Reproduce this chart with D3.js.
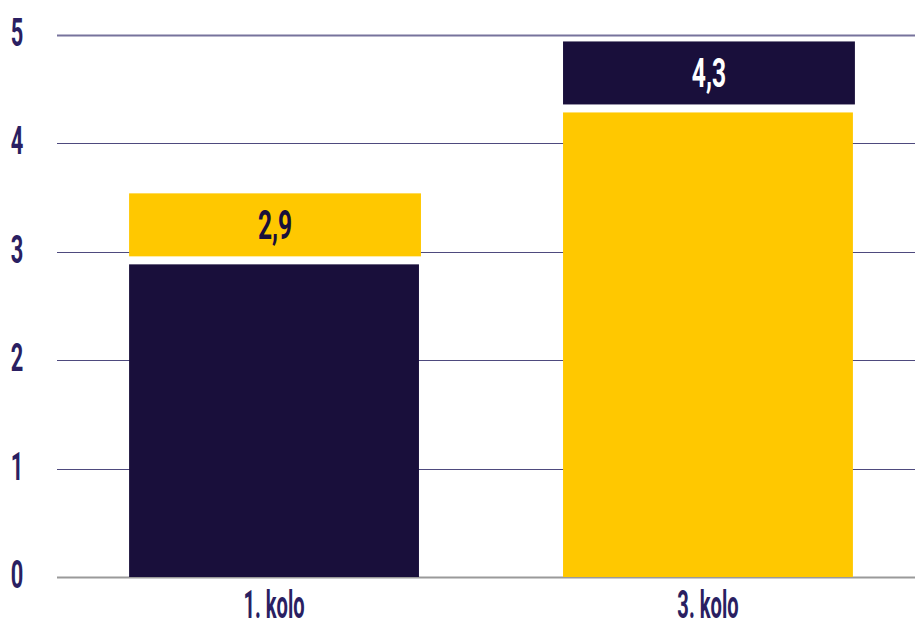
<!DOCTYPE html>
<html><head><meta charset="utf-8">
<script src="https://cdn.jsdelivr.net/npm/d3@7"></script>
<style>body{margin:0;background:#fff}svg{display:block}text{font-family:Roboto,"DejaVu Sans",sans-serif;font-weight:700}</style>
</head><body>
<svg id="c" width="915" height="628"></svg>
<script>
const categories = ["1. kolo", "3. kolo"];
const values = [2.9, 4.3];
const valueLabels = ["2,9", "4,3"];
const barColors = ["#190f3b", "#ffc800"];
const boxColors = ["#ffc800", "#190f3b"];
const boxTextColors = ["#190f3b", "#ffffff"];
const yTicks = [0, 1, 2, 3, 4, 5];

const svg = d3.select("#c");
const y = d3.scaleLinear().domain([0, 5]).range([577, 34.5]);
const x = d3.scaleBand().domain(categories).range([64, 918]).paddingInner(0.332).paddingOuter(0.15);
const SX = 0.56;

// gridlines
svg.append("g").selectAll("line").data(yTicks).join("line")
  .attr("x1", 57).attr("x2", 915)
  .attr("y1", d => Math.round(y(d)) + 0.5).attr("y2", d => Math.round(y(d)) + 0.5)
  .attr("stroke", d => d === 0 ? "#9a9a9a" : (d === 5 ? "#77739c" : "#4e4a7e"))
  .attr("stroke-width", d => d === 0 ? 2 : (d === 5 ? 2 : 1));

// tick labels
svg.append("g").selectAll("text").data(yTicks).join("text")
  .attr("transform", d => `translate(17,${y(d) + 11}) scale(${SX},1)`)
  .attr("text-anchor", "middle").attr("font-size", 39).attr("fill", "#2a1f62")
  .text(d => d);

// bars
const data = categories.map((c, i) => ({c, v: values[i], i}));
svg.append("g").selectAll("rect").data(data).join("rect")
  .attr("x", d => x(d.c)).attr("width", x.bandwidth())
  .attr("y", d => y(d.v) + 2).attr("height", d => y(0) - y(d.v) - 2)
  .attr("fill", d => barColors[d.i]);

// label boxes
const boxH = 63, gap = 8;
const g = svg.append("g").selectAll("g").data(data).join("g");
g.append("rect")
  .attr("x", d => x(d.c)).attr("width", x.bandwidth() + 2)
  .attr("y", d => y(d.v) - gap - boxH + 2).attr("height", boxH)
  .attr("fill", d => boxColors[d.i]);
g.append("text")
  .attr("transform", d => `translate(${x(d.c) + x.bandwidth() / 2 + 1},${y(d.v) - gap - boxH / 2 + 2 + 14.5}) scale(0.6,1)`)
  .attr("text-anchor", "middle").attr("font-size", 41)
  .attr("fill", d => boxTextColors[d.i])
  .text(d => valueLabels[d.i]);

// category labels
svg.append("g").selectAll("text").data(categories).join("text")
  .attr("transform", d => `translate(${x(d) + x.bandwidth() / 2},618) scale(0.53,1)`)
  .attr("text-anchor", "middle").attr("font-size", 38).attr("fill", "#2a1f62")
  .text(d => d);
</script>
</body></html>
